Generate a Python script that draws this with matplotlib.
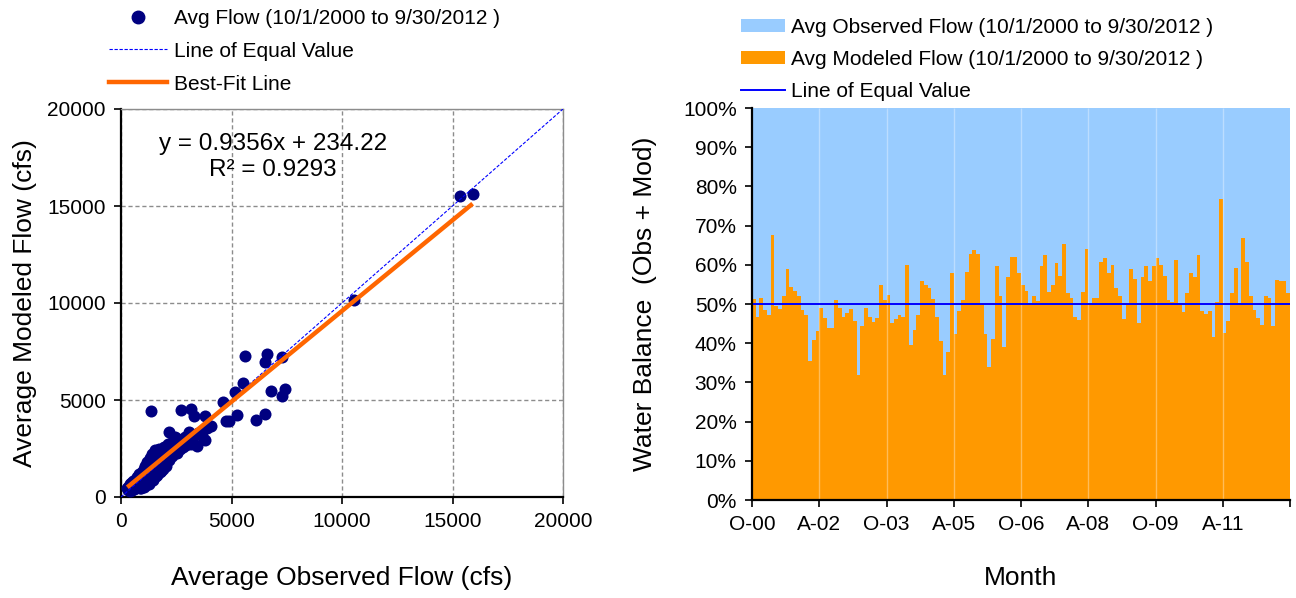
import matplotlib
matplotlib.use('Agg')
import matplotlib.pyplot as plt
from matplotlib.lines import Line2D
from matplotlib.patches import Patch
import numpy as np

plt.rcParams['font.family'] = ['Liberation Sans', 'DejaVu Sans']

# ---------------- data: scatter (cfs) ----------------
obs_flow = [285, 310, 340, 365, 390, 410, 430, 455, 470, 495, 510, 530, 555, 575, 590, 610, 630, 650,
            665, 680, 700, 715, 735, 750, 770, 790, 805, 820, 840, 860, 875, 895, 910, 930, 950, 970,
            985, 1000, 1020, 1040, 1060, 1075, 1090, 1110, 1130, 1150, 1165, 1180, 1200, 1220, 1240,
            1260, 1280, 1300, 1320, 1345, 1370, 1390, 1410, 1430, 1455, 1480, 1500, 1520, 1545, 1570,
            1600, 1625, 1650, 1680, 1700, 1730, 1760, 1790, 1820, 1850, 1880, 1910, 1940, 1975, 2010,
            2050, 2090, 2130, 2170, 2210, 2260, 2310, 2360, 2420, 2480, 2540, 2600, 2660, 2720, 2800,
            2880, 2960, 3050, 3150, 3300, 3500, 3650,
            1150, 1250, 1350, 1050, 900, 1450, 1600, 1750, 1900, 2050,
            1360, 2190, 2720, 3190, 3290, 3820, 4620, 5260, 4730, 4900, 6090, 6500, 4050, 3870, 3070,
            3820, 3450, 2460, 3220, 5610, 6590, 6510, 7270, 5500, 5170, 6800, 7270, 7420, 10550,
            15350, 15910]
mod_flow = [470, 380, 560, 420, 300, 650, 480, 390, 720, 540, 360, 610, 820, 470, 690, 400, 560, 900,
            730, 450, 620, 1050, 800, 520, 690, 950, 600, 1180, 760, 480, 880, 1020, 640, 1300, 820, 560,
            1100, 720, 1450, 900, 620, 1200, 1600, 820, 1000, 1350, 700, 1800, 1100, 900, 1500,
            1250, 760, 2000, 1150, 1400, 950, 1700, 2200, 1300, 1050, 1850, 1550, 1200, 2400, 1700,
            1400, 2000, 1150, 1900, 2500, 1600, 2150, 1350, 1800, 2350, 2000, 1650, 2600, 2200, 1850,
            2450, 2050, 2750, 1900, 2300, 2600, 2100, 2900, 2400, 2700, 2250, 3000, 2500, 2800, 2600,
            3100, 2700, 3000, 2750, 3200, 3300, 3150,
            600, 650, 800, 500, 450, 900, 1100, 1300, 1450, 1600,
            4410, 3360, 4500, 4530, 4190, 4190, 4910, 4240, 3930, 3930, 3980, 4270, 3670, 3580, 3330,
            2930, 2640, 3070, 2890, 7290, 7380, 6940, 7240, 5860, 5390, 5480, 5220, 5570, 10130,
            15500, 15640]
fit_slope = 0.9356
fit_intercept = 234.22
r_squared = 0.9293
scatter_ticks = [0, 5000, 10000, 15000, 20000]

# ---------------- data: monthly water balance (modeled share, %) ----------------
modeled_pct = [51.3, 46.8, 51.6, 48.5, 47.2, 67.6, 49.5, 48.8, 52.1, 58.9, 54.4, 53.4,
               52.1, 48.5, 47.2, 35.5, 40.8, 43.1, 49.1, 46.5, 44.0, 44.0, 51.0, 49.1,
               46.8, 47.8, 48.8, 45.7, 31.9, 44.4, 49.1, 46.8, 45.5, 46.4, 54.8, 51.0,
               52.3, 45.1, 46.1, 47.2, 46.8, 59.9, 39.5, 43.4, 47.2, 55.9, 54.8, 54.1,
               51.3, 46.8, 40.6, 31.9, 37.8, 58.0, 42.4, 48.3, 51.0, 58.2, 62.7, 63.8,
               62.7, 50.0, 42.4, 34.0, 41.0, 59.7, 52.0, 39.1, 56.9, 62.1, 62.1, 58.0,
               54.8, 53.3, 50.3, 52.0, 50.7, 59.7, 62.5, 53.1, 54.8, 60.4, 57.2, 65.2,
               52.7, 51.6, 46.6, 45.8, 53.1, 64.1, 50.2, 51.6, 51.6, 60.7, 61.7, 58.0,
               59.9, 54.2, 52.0, 46.2, 49.8, 58.9, 56.5, 45.1, 56.9, 59.7, 55.9, 59.7,
               61.7, 59.9, 57.2, 51.0, 50.4, 61.3, 49.8, 47.9, 52.7, 58.0, 56.9, 62.5,
               48.2, 47.5, 48.2, 41.6, 50.6, 76.9, 42.7, 45.7, 52.7, 59.3, 50.3, 66.9,
               60.7, 52.0, 48.5, 46.5, 44.7, 52.0, 51.6, 44.5, 56.1, 55.8, 55.8, 52.7]
month_tick_labels = ['O-00', 'A-02', 'O-03', 'A-05', 'O-06', 'A-08', 'O-09', 'A-11']
months_per_tick = 18
pct_ticks = [0, 10, 20, 30, 40, 50, 60, 70, 80, 90, 100]

NAVY = '#000080'
ORANGE_LINE = '#FF6600'
BLUE = '#0000FF'
OBS_COLOR = '#99CCFF'
MOD_COLOR = '#FF9900'

fig = plt.figure(figsize=(12.96, 5.98), dpi=100)
W, H = 1296, 598

def box(x0, y0, x1, y1):
    return [x0 / W, 1 - y1 / H, (x1 - x0) / W, (y1 - y0) / H]

# ================= left: scatter =================
ax1 = fig.add_axes(box(121, 109, 563, 497))
ax1.set_xlim(0, 20000)
ax1.set_ylim(0, 20000)
ax1.set_xticks(scatter_ticks)
ax1.set_yticks(scatter_ticks)
ax1.grid(True, color='#8c8c8c', ls=(0, (3, 2)), lw=1.0)
ax1.set_axisbelow(True)
for s in ['top', 'right']:
    ax1.spines[s].set_color('#8c8c8c')
    ax1.spines[s].set_linewidth(1.0)
for s in ['left', 'bottom']:
    ax1.spines[s].set_color('black')
    ax1.spines[s].set_linewidth(1.6)
ax1.tick_params(direction='out', length=5, width=1.2, labelsize=15, pad=6)

ax1.scatter(obs_flow, mod_flow, s=75, color=NAVY, zorder=3, linewidths=0)
ax1.plot([0, 20000], [0, 20000], color=BLUE, lw=0.8, ls=(0, (3, 1.5)), zorder=4)
fx = np.array([min(obs_flow), max(obs_flow)])
ax1.plot(fx, fit_slope * fx + fit_intercept, color=ORANGE_LINE, lw=3.2, zorder=5,
         solid_capstyle='butt')
ax1.text(6860, 18200, f'y = {fit_slope}x + {fit_intercept}', ha='center', va='center',
         fontsize=17.5, zorder=6)
ax1.text(6860, 16850, f'R² = {r_squared}', ha='center', va='center', fontsize=17.5, zorder=6)

ax1.set_xlabel('Average Observed Flow (cfs)', fontsize=19)
ax1.xaxis.set_label_coords(0.5, (497 - 578) / 388)
ax1.xaxis.label.set_va('center')
ax1.set_ylabel('Average Modeled Flow (cfs)', fontsize=19)
ax1.yaxis.set_label_coords((25 - 121) / 442, 0.5)
ax1.yaxis.label.set_va('center')

h1 = [Line2D([], [], ls='', marker='o', ms=9, color=NAVY),
      Line2D([], [], color=BLUE, lw=0.8, ls=(0, (3, 1.5))),
      Line2D([], [], color=ORANGE_LINE, lw=3.2)]
l1 = ['Avg Flow (10/1/2000 to 9/30/2012 )', 'Line of Equal Value', 'Best-Fit Line']
fig.legend(h1, l1, loc='upper left', bbox_to_anchor=(109 / W, 1 - 9 / H), frameon=False,
           fontsize=15, handlelength=2.8, handletextpad=0.3, labelspacing=0.66,
           borderaxespad=0, borderpad=0)

# ================= right: water balance bars =================
ax2 = fig.add_axes(box(752, 108, 1290, 500))
n = len(modeled_pct)
xpos = np.arange(n) + 0.5
mod_frac = np.array(modeled_pct) / 100.0
ax2.bar(xpos, mod_frac, width=1.0, color=MOD_COLOR, linewidth=0, zorder=2)
ax2.bar(xpos, 1 - mod_frac, bottom=mod_frac, width=1.0, color=OBS_COLOR, linewidth=0, zorder=2)
tick_pos = np.arange(0, n + 1, months_per_tick)
ax2.vlines(tick_pos[1:-1], 0, 1, color='white', alpha=0.35, lw=1.0, zorder=3)
ax2.plot([0, n], [0.5, 0.5], color=BLUE, lw=1.4, zorder=4)
ax2.set_xlim(0, n)
ax2.set_ylim(0, 1)
ax2.set_xticks(tick_pos)
ax2.set_xticklabels(month_tick_labels + [''] * (len(tick_pos) - len(month_tick_labels)))
ax2.set_yticks([p / 100 for p in pct_ticks])
ax2.set_yticklabels([f'{p}%' for p in pct_ticks])
for s in ['top', 'right']:
    ax2.spines[s].set_visible(False)
for s in ['left', 'bottom']:
    ax2.spines[s].set_color('black')
    ax2.spines[s].set_linewidth(1.6)
    ax2.spines[s].set_zorder(5)
ax2.tick_params(direction='out', length=5, width=1.2, labelsize=15, pad=6)

ax2.set_xlabel('Month', fontsize=19)
ax2.xaxis.set_label_coords(0.5, (500 - 578) / 392)
ax2.xaxis.label.set_va('center')
ax2.set_ylabel('Water Balance  (Obs + Mod)', fontsize=19)
ax2.yaxis.set_label_coords((645 - 752) / 538, 0.5)
ax2.yaxis.label.set_va('center')

h2 = [Patch(facecolor=OBS_COLOR, edgecolor='none'),
      Patch(facecolor=MOD_COLOR, edgecolor='none'),
      Line2D([], [], color=BLUE, lw=1.4)]
l2 = ['Avg Observed Flow (10/1/2000 to 9/30/2012 )', 'Avg Modeled Flow (10/1/2000 to 9/30/2012 )',
      'Line of Equal Value']
fig.legend(h2, l2, loc='upper left', bbox_to_anchor=(741 / W, 1 - 18 / H), frameon=False,
           fontsize=15, handlelength=2.1, handleheight=0.55, handletextpad=0.3,
           labelspacing=0.62, borderaxespad=0, borderpad=0)

fig.savefig('out.png', dpi=100)
